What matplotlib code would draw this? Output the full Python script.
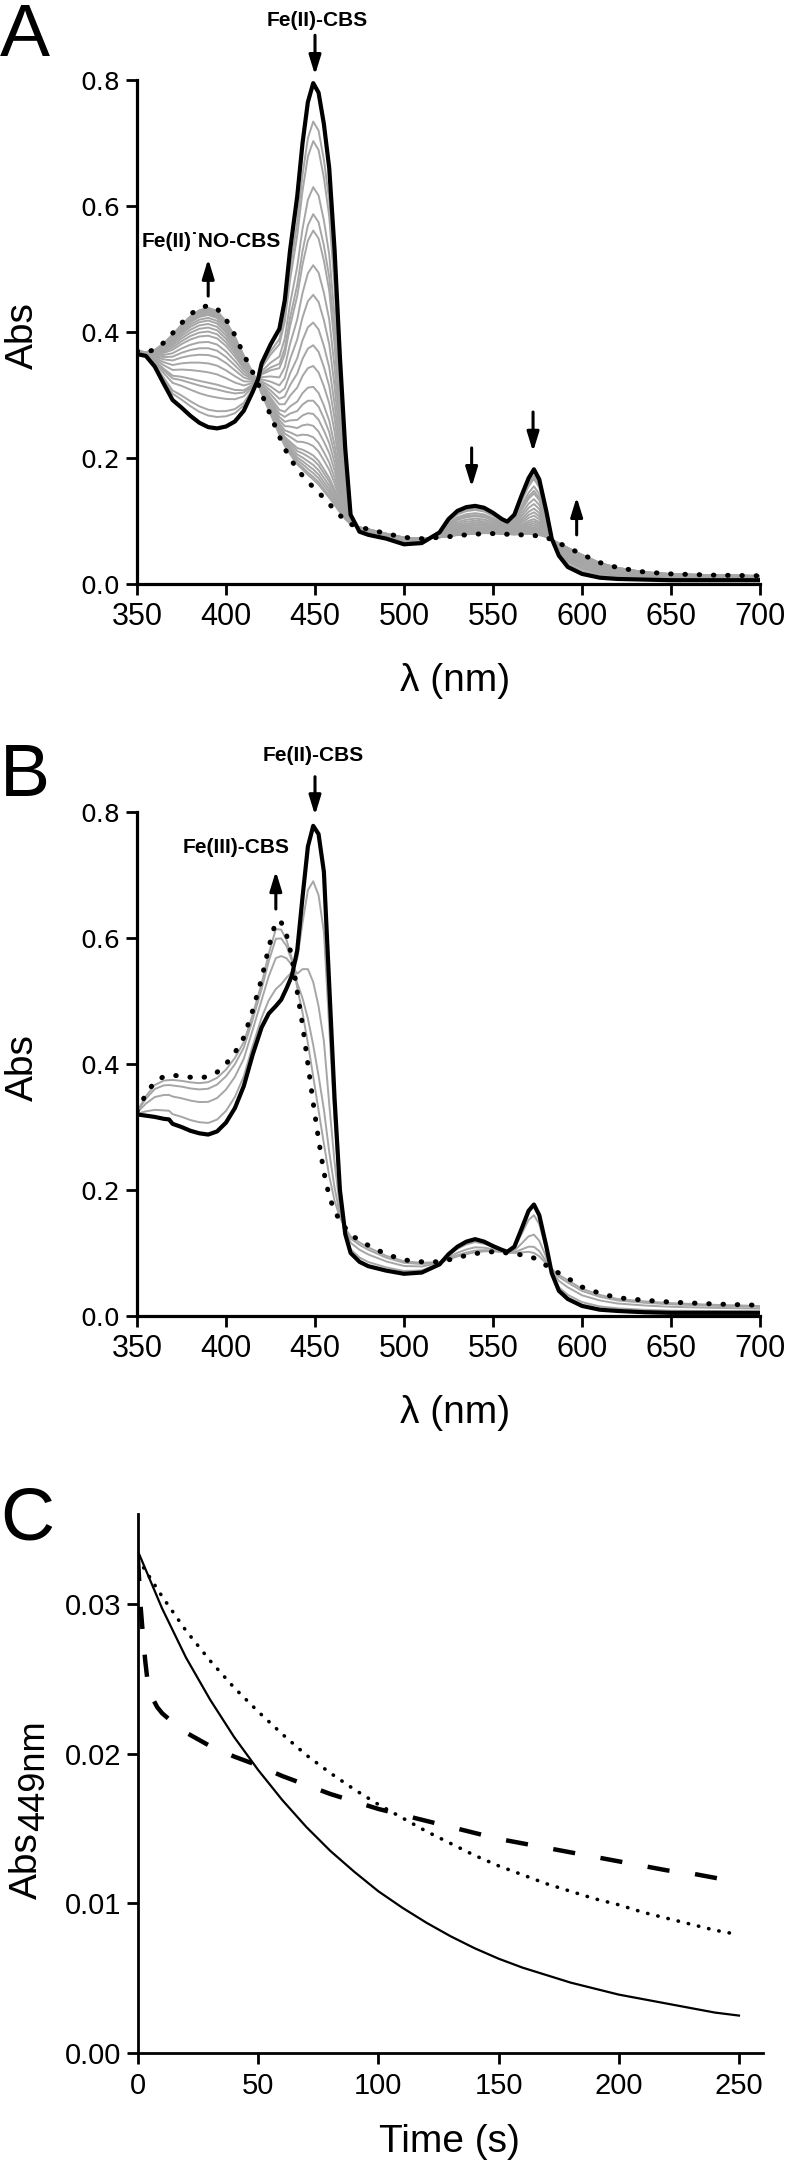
import numpy as np
import matplotlib
matplotlib.use("Agg")
import matplotlib.pyplot as plt

plt.rcParams['font.family'] = ['Liberation Sans', 'DejaVu Sans']

W, H = 787, 2163

# ---------- panel A: Fe(II)-CBS -> Fe(II)-NO-CBS ----------
wl_A = [350, 355, 360, 365, 370, 375, 380, 385, 390, 395,
        400, 405, 410, 415, 418, 420, 425, 430, 433, 436,
        440, 443, 446, 449, 452, 455, 458, 461, 464, 467,
        470, 475, 480, 490, 500, 510, 520, 525, 530, 535,
        540, 545, 550, 555, 558, 562, 566, 570, 573, 576,
        580, 583, 587, 592, 600, 610, 620, 635, 650, 675, 700]
black_A = [0.365, 0.362, 0.345, 0.318, 0.292, 0.280, 0.267, 0.256, 0.249, 0.247,
           0.250, 0.258, 0.275, 0.305, 0.325, 0.350, 0.380, 0.405, 0.450, 0.530,
           0.615, 0.700, 0.765, 0.795, 0.780, 0.730, 0.660, 0.530, 0.360, 0.215,
           0.110, 0.083, 0.078, 0.072, 0.063, 0.065, 0.082, 0.103, 0.116, 0.122,
           0.124, 0.121, 0.113, 0.103, 0.099, 0.110, 0.140, 0.168, 0.182, 0.166,
           0.115, 0.072, 0.045, 0.027, 0.016, 0.010, 0.008, 0.007, 0.006, 0.006, 0.006]
dotted_A = [0.370, 0.368, 0.372, 0.383, 0.398, 0.414, 0.428, 0.438, 0.442, 0.437,
            0.420, 0.395, 0.364, 0.336, 0.318, 0.302, 0.268, 0.234, 0.215, 0.200,
            0.182, 0.172, 0.162, 0.154, 0.146, 0.136, 0.127, 0.118, 0.109, 0.101,
            0.095, 0.090, 0.087, 0.080, 0.074, 0.072, 0.074, 0.075, 0.077, 0.078,
            0.079, 0.080, 0.080, 0.079, 0.079, 0.078, 0.078, 0.078, 0.077, 0.076,
            0.074, 0.070, 0.065, 0.058, 0.047, 0.034, 0.026, 0.019, 0.016, 0.014, 0.013]
# heights of the grey intermediate spectra at 449 nm
gray449_A = [0.734, 0.703, 0.630, 0.587, 0.561, 0.506, 0.459, 0.415, 0.379, 0.346,
             0.313, 0.291, 0.270, 0.251, 0.233, 0.219, 0.204, 0.197, 0.189, 0.182,
             0.176, 0.170, 0.166]

# ---------- panel B: Fe(II)-CBS -> Fe(III)-CBS ----------
wl_B = [350, 355, 360, 365, 368, 370, 375, 380, 385, 390,
        395, 400, 405, 410, 415, 420, 424, 428, 431, 434,
        437, 440, 443, 446, 449, 452, 455, 458, 461, 464,
        467, 470, 475, 480, 490, 500, 510, 520, 525, 530,
        535, 540, 545, 550, 555, 558, 562, 566, 570, 573,
        576, 580, 583, 587, 592, 600, 610, 620, 635, 650, 675, 700]
black_B = [0.320, 0.318, 0.316, 0.313, 0.312, 0.305, 0.300, 0.294, 0.290, 0.288,
           0.293, 0.307, 0.330, 0.365, 0.415, 0.458, 0.480, 0.492, 0.502, 0.520,
           0.540, 0.580, 0.665, 0.745, 0.778, 0.765, 0.705, 0.525, 0.345, 0.200,
           0.130, 0.100, 0.086, 0.079, 0.072, 0.067, 0.069, 0.082, 0.098, 0.110,
           0.118, 0.122, 0.118, 0.111, 0.105, 0.102, 0.110, 0.138, 0.167, 0.177,
           0.160, 0.110, 0.068, 0.040, 0.027, 0.016, 0.010, 0.008, 0.006, 0.005, 0.005, 0.005]
dotted_B = [0.325, 0.352, 0.372, 0.380, 0.381, 0.382, 0.381, 0.379, 0.378, 0.380,
            0.387, 0.400, 0.418, 0.442, 0.485, 0.535, 0.585, 0.627, 0.625, 0.605,
            0.570, 0.515, 0.462, 0.400, 0.338, 0.280, 0.228, 0.190, 0.166, 0.152,
            0.140, 0.129, 0.120, 0.112, 0.098, 0.089, 0.086, 0.086, 0.089, 0.093,
            0.096, 0.099, 0.101, 0.102, 0.101, 0.100, 0.099, 0.097, 0.095, 0.092,
            0.088, 0.080, 0.075, 0.068, 0.060, 0.046, 0.036, 0.029, 0.025, 0.022, 0.019, 0.017]
gray449_B = [0.69, 0.53, 0.43, 0.38]

# ---------- panel C: Abs449 traces ----------
t_C = [0, 10, 20, 30, 40, 50, 60, 70, 80, 90, 100, 110, 120, 130, 140,
       150, 160, 170, 180, 190, 200, 210, 220, 230, 240, 250]
solid_C = [0.0335, 0.0297, 0.0264, 0.0236, 0.0211, 0.0189, 0.0169, 0.0151, 0.0135, 0.0121,
           0.0108, 0.0097, 0.0087, 0.0078, 0.0070, 0.0063, 0.0057, 0.0052, 0.0047, 0.0043,
           0.0039, 0.0036, 0.0033, 0.0030, 0.0027, 0.0025]
dotted_C = [0.0330, 0.0305, 0.0282, 0.0262, 0.0244, 0.0228, 0.0213, 0.0199, 0.0187, 0.0176,
            0.0166, 0.0157, 0.0148, 0.0140, 0.0132, 0.0125, 0.0119, 0.0113, 0.0108, 0.0103,
            0.0099, 0.0094, 0.0090, 0.0086, 0.0082, 0.0079]
t_dash = [0, 1, 2, 3, 4, 6, 8, 10, 15, 20, 30, 40, 50, 60, 70, 80, 90, 100, 110, 120,
          130, 140, 150, 160, 170, 180, 190, 200, 210, 220, 230, 240, 250]
dashed_C = [0.0330, 0.0300, 0.0280, 0.0262, 0.0248, 0.0237, 0.0231, 0.0227, 0.0220, 0.0214,
            0.0205, 0.0198, 0.0192, 0.0185, 0.0179, 0.0173, 0.0168, 0.0163, 0.0159, 0.0155,
            0.0151, 0.0147, 0.0143, 0.0140, 0.0137, 0.0134, 0.0131, 0.0128, 0.0125, 0.0122,
            0.0120, 0.0117, 0.0114]

GRAY = '#a6a6a6'


def px_axes(left, top, right, bottom):
    return [left / W, 1 - bottom / H, (right - left) / W, (bottom - top) / H]


def base_style(ax, spine_w=2.3):
    for s in ['top', 'right']:
        ax.spines[s].set_visible(False)
    for s in ['left', 'bottom']:
        ax.spines[s].set_linewidth(spine_w)
    ax.tick_params(direction='out', length=8, width=2.0)


def spectrum_panel(ax, wl, black, dotted, gray449):
    wl = np.array(wl)
    black = np.array(black)
    dotted = np.array(dotted)
    i449 = list(wl).index(449)
    for g in gray449:
        f = (g - dotted[i449]) / (black[i449] - dotted[i449])
        ax.plot(wl, dotted + f * (black - dotted), color=GRAY, lw=1.4, zorder=2)
    ax.plot(wl, black, color='black', lw=3.0, zorder=4, solid_joinstyle='round')
    ax.plot(wl, dotted, color='black', lw=3.6, linestyle=(0, (0.1, 2.75)),
            dash_capstyle='round', zorder=5)
    ax.set_xlim(350, 700)
    ax.set_ylim(0, 0.8)
    ax.set_xticks(np.arange(350, 701, 50))
    ax.set_yticks([0.0, 0.2, 0.4, 0.6, 0.8])
    ax.set_yticklabels(['0.0', '0.2', '0.4', '0.6', '0.8'], family='DejaVu Sans', fontsize=18)
    ax.tick_params(axis='x', labelsize=22, pad=5)
    ax.tick_params(axis='y', pad=4)
    base_style(ax)
    ax.set_ylabel('Abs', fontsize=28, va='center', ha='center')
    ax.yaxis.set_label_coords(-0.183, 0.492)
    ax.set_xlabel('λ (nm)', fontsize=28, va='center', ha='center')
    ax.xaxis.set_label_coords(0.510, -0.192)


def arrow(ax, x, y_tail, y_head):
    ax.annotate('', xy=(x, y_head), xytext=(x, y_tail), annotation_clip=False,
                arrowprops=dict(arrowstyle='-|>,head_length=0.65,head_width=0.2',
                                mutation_scale=18, lw=2.2, color='black',
                                shrinkA=0, shrinkB=0))


fig = plt.figure(figsize=(W / 100, H / 100), dpi=100)

# panel A
axA = fig.add_axes(px_axes(137, 80, 760, 584))
spectrum_panel(axA, wl_A, black_A, dotted_A, gray449_A)
axA.text(451, 0.895, 'Fe(II)-CBS', fontsize=15, fontweight='bold', ha='center', va='center')
arrow(axA, 450, 0.871, 0.808)
axA.text(391.5, 0.544, 'Fe(II)\u02d9NO-CBS', fontsize=15, fontweight='bold',
         ha='center', va='center')
arrow(axA, 390, 0.457, 0.516)
arrow(axA, 538, 0.216, 0.154)
arrow(axA, 572.5, 0.273, 0.210)
arrow(axA, 597, 0.078, 0.138)

# panel B
axB = fig.add_axes(px_axes(137, 812, 760, 1316))
spectrum_panel(axB, wl_B, black_B, dotted_B, gray449_B)
axB.text(449, 0.890, 'Fe(II)-CBS', fontsize=15, fontweight='bold', ha='center', va='center')
arrow(axB, 450, 0.856, 0.795)
axB.text(405.6, 0.743, 'Fe(III)-CBS', fontsize=15, fontweight='bold', ha='center', va='center')
arrow(axB, 428, 0.646, 0.706)

# panel C
axC = fig.add_axes(px_axes(138, 1514, 763, 2053))
axC.plot(t_C, solid_C, color='black', lw=1.6)
axC.plot(t_C, dotted_C, color='black', lw=2.6, linestyle=(0, (0.1, 2.8)),
         dash_capstyle='round')
axC.plot(t_dash, dashed_C, color='black', lw=3.2, linestyle=(0, (5.0, 5.8)))
axC.set_xlim(0, 260)
axC.set_ylim(0, 0.036)
axC.set_xticks([0, 50, 100, 150, 200, 250])
axC.set_yticks([0.00, 0.01, 0.02, 0.03])
axC.set_yticklabels(['0.00', '0.01', '0.02', '0.03'])
axC.tick_params(labelsize=21)
base_style(axC, spine_w=2.0)
axC.tick_params(axis='x', pad=6)
axC.tick_params(axis='y', pad=4)
axC.set_xlabel('Time (s)', fontsize=28, va='center', ha='center')
axC.xaxis.set_label_coords(0.499, -0.165)

# y label of C: "Abs" followed by lowered "449nm"
fig.text(37 / W, 1 - 1899 / H, 'Abs', fontsize=28, rotation=90,
         rotation_mode='anchor', ha='left', va='baseline')
fig.text(44 / W, 1 - 1831 / H, '449nm', fontsize=26, rotation=90,
         rotation_mode='anchor', ha='left', va='baseline')

# panel letters
for letter, base in [('A', 56), ('B', 796), ('C', 1540)]:
    fig.text(0 / W, 1 - base / H, letter, fontsize=54, ha='left', va='baseline')

fig.savefig('out.png', dpi=100)
